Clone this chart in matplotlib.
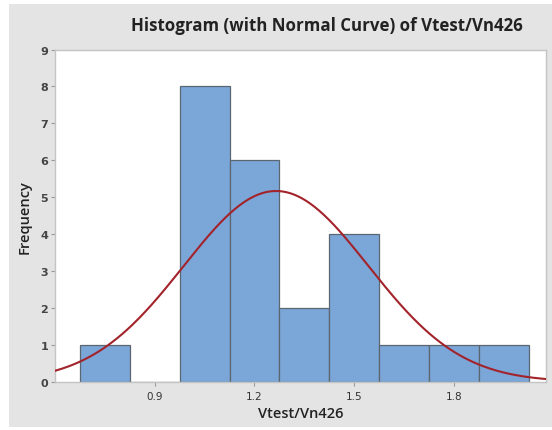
import numpy as np
import matplotlib
matplotlib.use('Agg')
import matplotlib.pyplot as plt
from matplotlib.patches import Rectangle

# histogram data
bin_centers = [0.75, 0.90, 1.05, 1.20, 1.35, 1.50, 1.65, 1.80, 1.95]
counts = [1, 0, 8, 6, 2, 4, 1, 1, 1]
bin_width = 0.15
# fitted normal curve parameters
mu = 1.265
sigma = 0.278
n_obs = sum(counts)

xticks = [0.9, 1.2, 1.5, 1.8]
xticklabels = ['0.9', '1.2', '1.5', '1.8']
yticks = list(range(0, 10))

W, H = 552, 431
fig = plt.figure(figsize=(W / 100, H / 100), dpi=100)
fig.patch.set_facecolor('white')
# gray graph region
fig.patches.append(Rectangle((9 / W, 3 / H), 1 - 9 / W, 1 - 8 / H,
                             transform=fig.transFigure, facecolor='#e4e4e4',
                             edgecolor='none', zorder=-5))

ax = fig.add_axes([55 / W, 1 - 382.7 / H, (546 - 55) / W, (382.7 - 50.5) / H])
ax.set_zorder(2)
ax.set_facecolor('white')

ax.bar(bin_centers, counts, width=bin_width, color='#7ba6d8',
       edgecolor='#5c6670', linewidth=0.9, zorder=2)

xs = np.linspace(0.6, 2.077, 300)
pdf = n_obs * bin_width / (sigma * np.sqrt(2 * np.pi)) * np.exp(-0.5 * ((xs - mu) / sigma) ** 2)
ax.plot(xs, pdf, color='#a3232b', linewidth=1.5, zorder=3)

ax.set_xlim(0.6, 2.077)
ax.set_ylim(0, 9)
ax.set_xticks(xticks)
ax.set_xticklabels(xticklabels)
ax.set_yticks(yticks)

for s in ax.spines.values():
    s.set_color('#c4c4c4')
    s.set_linewidth(1.0)
ax.tick_params(axis='both', direction='out', length=3, width=0.8,
               color='#9a9a9a', labelcolor='#333333', pad=2)
ax.tick_params(axis='x', pad=4)
for lab in ax.get_xticklabels():
    lab.set_fontsize(7.5)
    lab.set_family('Liberation Sans Narrow')
for lab in ax.get_yticklabels():
    lab.set_fontsize(8)
    lab.set_fontweight('bold')
    lab.set_color('#444444')

ax.set_xlabel('Vtest/Vn426', fontsize=10.5, fontweight='semibold',
              family='Open Sans', color='#222222', labelpad=3)
ax.set_ylabel('Frequency', fontsize=10.5, fontweight='semibold',
              family='Open Sans', color='#222222', labelpad=6)

fig.text(327 / W, 1 - 26 / H, 'Histogram (with Normal Curve) of Vtest/Vn426',
         ha='center', va='center', fontsize=12.2, fontweight='bold',
         family='Open Sans', color='#222222')

fig.savefig('out.png', dpi=100)
